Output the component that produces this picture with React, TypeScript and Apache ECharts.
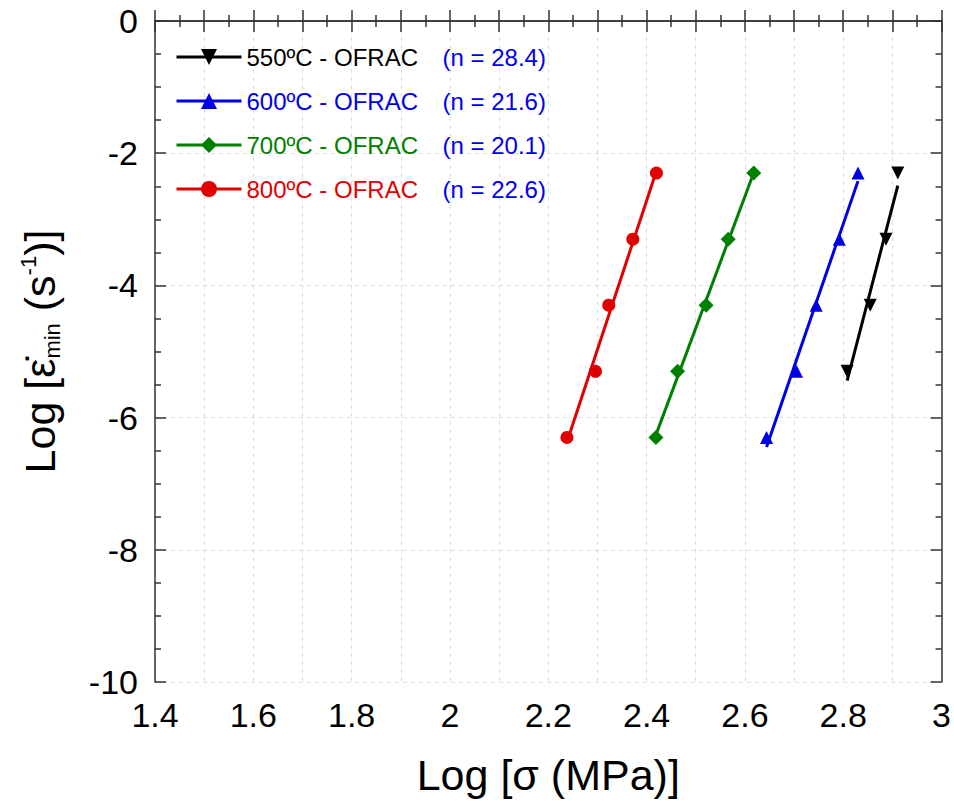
import React, { useEffect, useRef } from "react";
import * as echarts from "echarts";

const seriesNames = ["550ºC - OFRAC", "600ºC - OFRAC", "700ºC - OFRAC", "800ºC - OFRAC"];
const nLabels = ["(n = 28.4)", "(n = 21.6)", "(n = 20.1)", "(n = 22.6)"];
const colors = ["#000000", "#0000e6", "#008000", "#e00000"];
const symbols = ["triangle", "triangle", "diamond", "circle"];
const symbolRotates = [180, 0, 0, 0];

const x550 = [2.808, 2.855, 2.887, 2.911];
const y550 = [-5.3, -4.3, -3.3, -2.3];
const x600 = [2.644, 2.705, 2.745, 2.792, 2.83];
const y600 = [-6.3, -5.3, -4.3, -3.3, -2.3];
const x700 = [2.419, 2.463, 2.521, 2.566, 2.618];
const y700 = [-6.3, -5.3, -4.3, -3.3, -2.3];
const x800 = [2.238, 2.296, 2.323, 2.372, 2.42];
const y800 = [-6.3, -5.3, -4.3, -3.3, -2.3];

const xs = [x550, x600, x700, x800];
const ys = [y550, y600, y700, y800];

const xTicks = { min: 1.4, max: 3, step: 0.1 };
const yTicks = { min: -10, max: 0, step: 2 };

const FONT = "'Liberation Sans', Arial, sans-serif";

function fit(x: number[], y: number[]) {
  const n = x.length;
  const mx = x.reduce((a, b) => a + b, 0) / n;
  const my = y.reduce((a, b) => a + b, 0) / n;
  let sxy = 0;
  let sxx = 0;
  for (let i = 0; i < n; i++) {
    sxy += (x[i] - mx) * (y[i] - my);
    sxx += (x[i] - mx) * (x[i] - mx);
  }
  const b = sxy / sxx;
  const a = my - b * mx;
  const x0 = Math.min(...x);
  const x1 = Math.max(...x);
  return [
    [x0, a + b * x0],
    [x1, a + b * x1],
  ];
}

export default function App() {
  const ref = useRef<HTMLDivElement>(null);
  useEffect(() => {
    if (!ref.current) return;
    const chart = echarts.init(ref.current, null, { renderer: "svg" });
    const axisLine = { show: true, lineStyle: { color: "#333", width: 1.5 } };
    const xBase = {
      type: "value",
      min: xTicks.min,
      max: xTicks.max,
      interval: xTicks.step,
      axisLine,
      axisTick: { show: true, inside: true, length: 11, lineStyle: { color: "#333", width: 1.5 } },
      minorTick: { show: true, splitNumber: 2, length: 6, lineStyle: { color: "#333", width: 1.5 } },
    };
    const yBase = {
      type: "value",
      min: yTicks.min,
      max: yTicks.max,
      interval: yTicks.step,
      axisLine,
      axisTick: { show: true, inside: true, length: 11, lineStyle: { color: "#333", width: 1.5 } },
      minorTick: { show: true, splitNumber: 4, length: 6, lineStyle: { color: "#333", width: 1.5 } },
    };
    const series: any[] = [];
    for (let i = 0; i < 4; i++) {
      series.push({
        type: "line",
        data: fit(xs[i], ys[i]),
        showSymbol: false,
        symbol: "none",
        silent: true,
        lineStyle: { color: colors[i], width: 3 },
        z: 2,
      });
    }
    for (let i = 0; i < 4; i++) {
      series.push({
        name: seriesNames[i],
        type: "line",
        data: xs[i].map((x, j) => [x, ys[i][j]]),
        symbol: symbols[i],
        symbolSize: symbols[i] === "diamond" ? 15 : 13,
        symbolRotate: symbolRotates[i],
        itemStyle: { color: colors[i] },
        lineStyle: { width: 0, opacity: 0 },
        z: 3,
      });
    }
    chart.setOption({
      animation: false,
      backgroundColor: "#ffffff",
      textStyle: { fontFamily: FONT },
      grid: { left: 155, right: 7, top: 21, bottom: 119, containLabel: false },
      legend: {
        orient: "vertical",
        left: 170,
        top: 40,
        itemWidth: 65,
        itemHeight: 20,
        itemGap: 20,
        formatter: (name: string) => {
          const i = seriesNames.indexOf(name);
          return `{a|${name}}{n|${nLabels[i]}}`;
        },
        textStyle: {
          fontFamily: FONT,
          fontSize: 24,
          lineHeight: 20,
          rich: {
            a: { width: 196, fontSize: 24, fontFamily: FONT },
            n: { color: "#0000ee", fontSize: 24, fontFamily: FONT },
          },
        },
        data: seriesNames.map((name, i) => ({
          name,
          textStyle: { color: colors[i] },
          itemStyle: { color: colors[i] },
          lineStyle: { color: colors[i], width: 3, opacity: 1 },
        })),
      },
      xAxis: [
        {
          ...xBase,
          position: "bottom",
          name: "Log [σ (MPa)]",
          nameLocation: "middle",
          nameGap: 71,
          nameTextStyle: { fontSize: 43, color: "#000", fontFamily: FONT },
          axisLabel: {
            color: "#000",
            fontSize: 34,
            fontFamily: FONT,
            margin: 16,
            formatter: (v: number) => (Math.round(v * 10) % 2 === 0 ? String(Math.round(v * 10) / 10) : ""),
          },
          splitLine: { show: true, lineStyle: { color: "#dddddd", type: [4, 4], width: 1 } },
        },
        {
          ...xBase,
          position: "top",
          axisLabel: { show: false },
          splitLine: { show: false },
        },
      ],
      yAxis: [
        {
          ...yBase,
          position: "left",
          name: "Log [ε̇{sub|min} (s{sup|-1})]",
          nameLocation: "middle",
          nameGap: 92,
          nameTextStyle: {
            fontSize: 43,
            color: "#000",
            fontFamily: FONT,
            rich: {
              sub: { fontSize: 22, fontFamily: FONT, color: "#000", verticalAlign: "bottom", lineHeight: 40 },
              sup: { fontSize: 22, fontFamily: FONT, color: "#000", verticalAlign: "top", lineHeight: 46 },
            },
          },
          axisLabel: { color: "#000", fontSize: 34, fontFamily: FONT, margin: 17 },
          splitLine: { show: true, lineStyle: { color: "#dddddd", type: [4, 4], width: 1 } },
        },
        {
          ...yBase,
          position: "right",
          axisLabel: { show: false },
          splitLine: { show: false },
        },
      ],
      series,
    });
    return () => chart.dispose();
  }, []);
  return <div ref={ref} style={{ width: 954, height: 801, position: "absolute", left: 0, top: 0 }} />;
}
